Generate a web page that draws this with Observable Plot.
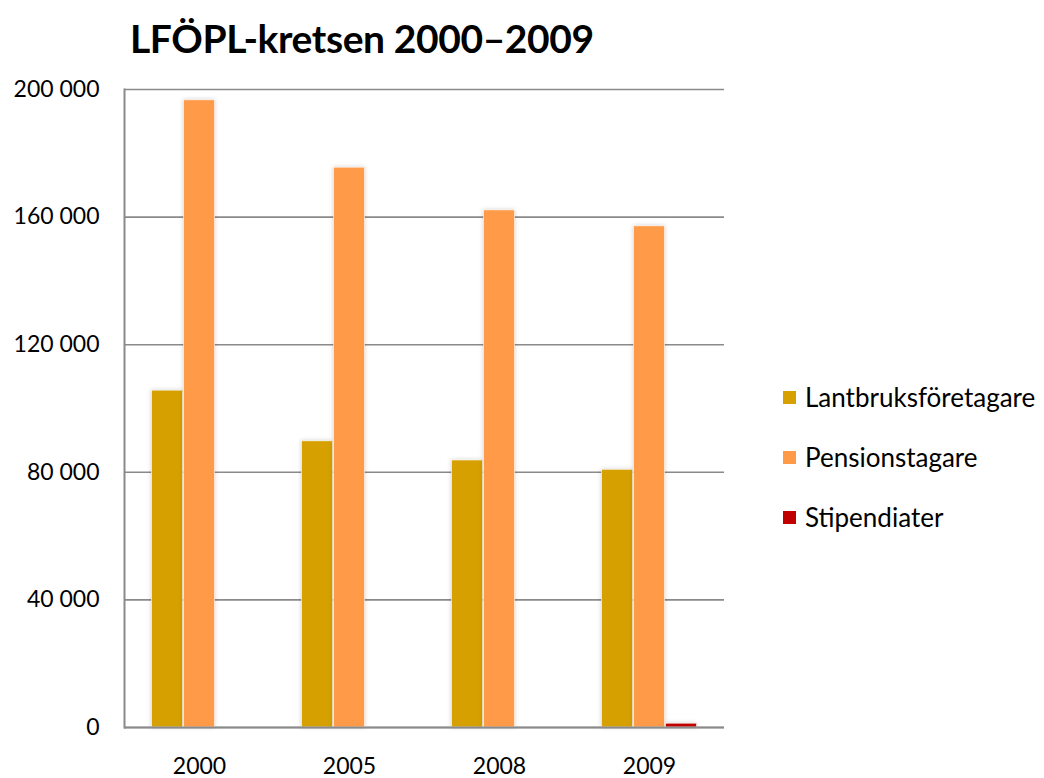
<!DOCTYPE html>
<html>
<head>
<meta charset="utf-8">
<script src="https://cdn.jsdelivr.net/npm/d3@7"></script>
<script src="https://cdn.jsdelivr.net/npm/@observablehq/plot@0.6"></script>
<style>
  html, body { margin: 0; padding: 0; background: #fff; }
  #wrap { position: relative; width: 1044px; height: 778px; font-family: Lato, "Open Sans", sans-serif; }
  #title { position: absolute; left: 130px; top: 15px; font-size: 39px; font-weight: bold; color: #000; white-space: nowrap; letter-spacing: -0.4px; }
  #legend { position: absolute; left: 783px; top: 367px; }
  .item { display: flex; align-items: center; height: 60px; font-size: 26px; color: #000; }
  .sw { width: 13px; height: 13px; margin-right: 9px; }
  svg g[aria-label="bar"] rect { filter: drop-shadow(0px 0px 2px rgba(0,0,0,0.18)); }
</style>
</head>
<body>
<div id="wrap">
  <div id="chart"></div>
  <div id="title">LFÖPL-kretsen 2000–2009</div>
  <div id="legend"></div>
</div>
<script>
const years = ["2000", "2005", "2008", "2009"];
const seriesNames = ["Lantbruksföretagare", "Pensionstagare", "Stipendiater"];
const colors = ["#d5a000", "#ff9a48", "#c00000"];
const lantbruk = [105600, 89700, 83700, 80800];
const pension = [196600, 175500, 162100, 157100];
const stipendiater = [0, 0, 0, 1200];
const yTicks = [0, 40000, 80000, 120000, 160000, 200000];

const allSeries = [lantbruk, pension, stipendiater];
const data = [];
years.forEach((yr, i) => {
  seriesNames.forEach((s, j) => {
    data.push({ year: yr, series: s, value: allSeries[j][i] });
  });
});

const fmt = d => d3.format(",")(d).replace(/,/g, " ");

const chart = Plot.plot({
  width: 1044,
  height: 778,
  marginLeft: 123,
  marginRight: 320,
  marginTop: 89,
  marginBottom: 51,
  style: { fontFamily: "Lato, 'Open Sans', sans-serif", fontSize: "23px", color: "#000", background: "#fff" },
  fx: { domain: years, padding: 0, label: null, axis: "bottom", tickSize: 0, tickPadding: 30 },
  x: { domain: seriesNames, paddingInner: 0, paddingOuter: 0.776, axis: null },
  y: { domain: [0, 200000], ticks: yTicks, label: null, axis: "left", tickSize: 0, tickPadding: 25, tickFormat: fmt },
  color: { domain: seriesNames, range: colors },
  marks: [
    Plot.gridY(yTicks, { stroke: "#8a8a8a", strokeOpacity: 1, strokeWidth: 1.6 }),
    Plot.barY(data, { fx: "year", x: "series", y: "value", fill: "series", insetLeft: 0.5, insetRight: 0.5, stroke: "#fff", strokeWidth: 0.6 }),
    Plot.frame({ anchor: "left", facet: "super", stroke: "#8a8a8a", strokeWidth: 2 }),
    Plot.ruleY([0], { stroke: "#8a8a8a", strokeWidth: 2 })
  ]
});
document.getElementById("chart").appendChild(chart);

const legend = document.getElementById("legend");
seriesNames.forEach((s, j) => {
  const item = document.createElement("div");
  item.className = "item";
  const sw = document.createElement("div");
  sw.className = "sw";
  sw.style.background = colors[j];
  const label = document.createElement("span");
  label.textContent = s;
  item.appendChild(sw);
  item.appendChild(label);
  legend.appendChild(item);
});
</script>
</body>
</html>
